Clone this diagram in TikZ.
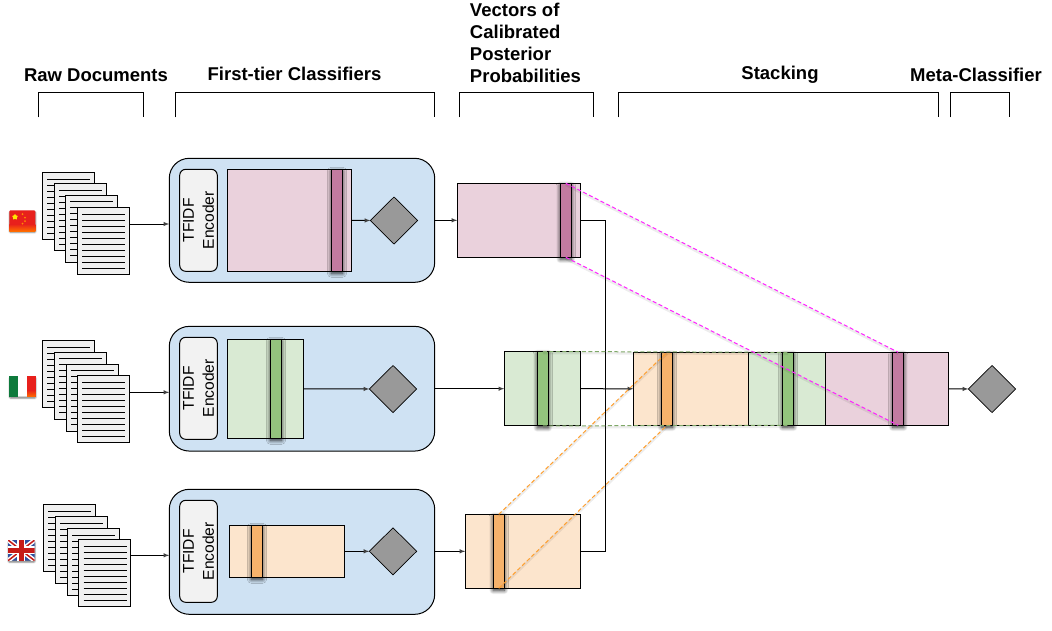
\documentclass[tikz,border=0pt]{standalone}
\usepackage{fontspec}
\setmainfont{Liberation Sans}
\usetikzlibrary{shapes.geometric,shadows.blur}

\definecolor{panelblue}{HTML}{CFE2F3}
\definecolor{pinkbg}{HTML}{EAD1DC}
\definecolor{pinkbar}{HTML}{C27BA0}
\definecolor{greenbg}{HTML}{D9EAD3}
\definecolor{greenbar}{HTML}{93C47D}
\definecolor{orangebg}{HTML}{FCE5CD}
\definecolor{orangebar}{HTML}{F6B26B}
\definecolor{linkgreen}{HTML}{7FA868}
\definecolor{linkorange}{HTML}{FFA030}
\definecolor{linkpink}{HTML}{FF22FF}
\definecolor{flagred}{HTML}{E8201C}
\definecolor{flaggreen}{HTML}{0E7A3C}
\definecolor{flagblue}{HTML}{2F4F9E}

\tikzset{
    every node/.style={inner sep=0pt, outer sep=0pt},
    line/.style={line width=1pt},
    header/.style={font=\fontsize{18.5}{22}\selectfont\bfseries, align=left},
    docsheet/.style={draw, line width=1pt, fill=black!6, minimum width=52.4pt, minimum height=67.4pt},
    panel/.style={draw, line width=1pt, fill=panelblue, rounded corners=20pt, minimum width=265.4pt},
    encoder/.style={draw, line width=1pt, fill=black!5, rounded corners=6pt, minimum width=37.6pt, minimum height=102pt},
    block/.style={draw, line width=1pt},
    bar/.style={draw, line width=1pt, minimum width=11.2pt,
        blur shadow={shadow xshift=0pt, shadow yshift=-2pt, shadow blur steps=10, shadow blur radius=4pt, shadow opacity=85}},
    decision/.style={draw, line width=0.7pt, fill=black!40, diamond, aspect=1, minimum width=47.4pt, minimum height=47pt},
    link/.style={dash pattern=on 4pt off 2.5pt, line width=1pt,
        preaction={draw=black, opacity=0.07, solid, line width=2.5pt, transform canvas={yshift=-1.5pt}}},
    flagshade/.style={blur shadow={shadow xshift=0.3pt, shadow yshift=-1.5pt, shadow blur steps=6, shadow blur radius=1.5pt, shadow opacity=50}},
}

% one sheet of a document stack: name, left edge, top edge
\newcommand{\docpage}[3]{
    \node[docsheet] (#1) at (#2+26.2,#3+33.7) {};
    \foreach \i in {0,...,9}
        \draw[line] (#2+5,#3+6.7+6*\i) -- +(43,0);
}

\begin{document}
\begin{tikzpicture}[x=1pt, y=-1pt, >=latex]
    \useasboundingbox (0,0) rectangle (1052,630);

    % column headers
    \node[header] (H1) at (96,75) {Raw Documents};
    \node[header] (H2) at (294.5,74) {First-tier Classifiers};
    \node[header] (H3) at (525.5,43) {Vectors of\\Calibrated\\Posterior\\Probabilities};
    \node[header] (H4) at (780,75) {Stacking};
    \node[header] (H5) at (976,75) {Meta-Classifier};

    \draw[line] (38.4,117.3) |- (143.6,92.3) -- (143.6,117.3);
    \draw[line] (175.4,117.3) |- (434.9,92.3) -- (434.9,117.3);
    \draw[line] (459.8,117.3) |- (593.8,92.3) -- (593.8,117.3);
    \draw[line] (618.3,117.3) |- (938.7,92.3) -- (938.7,117.3);
    \draw[line] (950.3,117.3) |- (1009.3,92.3) -- (1009.3,117.3);

    % flags
    \fill[flagred, flagshade, rounded corners=1pt] (9.3,210.3) rectangle (35.3,231);
    \shade[top color=flagred, bottom color=orange!85!red] (9.3,224) rectangle (35.3,231);
    \node[star, star points=5, fill=yellow!90!orange, minimum size=6pt] (star) at (15,217) {};
    \foreach \sx/\sy in {22.5/214, 25/217.5, 25/221, 22.5/223.5}
        \fill[orange!90!yellow] (\sx,\sy) circle (1pt);

    \fill[white, flagshade, rounded corners=1pt] (9.3,376) rectangle (35.6,396.7);
    \fill[flaggreen] (9.3,376) rectangle (18,396.7);
    \fill[flagred] (27,376) rectangle (35.6,396.7);
    \shade[top color=flagred, bottom color=orange!85!red] (27,390) rectangle (35.6,396.7);

    \fill[flagblue, flagshade, rounded corners=1pt] (8,540) rectangle (34.7,560.7);
    \begin{scope}
        \clip (8,540) rectangle (34.7,560.7);
        \draw[white, line width=4.5pt] (8,540) -- (34.7,560.7) (8,560.7) -- (34.7,540);
        \draw[flagred!85!black, line width=1.5pt] (8,540) -- (34.7,560.7) (8,560.7) -- (34.7,540);
        \draw[white, line width=8pt] (21.3,540) -- (21.3,560.7) (8,550.3) -- (34.7,550.3);
        \draw[flagred!85!black, line width=5pt] (21.3,540) -- (21.3,560.7) (8,550.3) -- (34.7,550.3);
    \end{scope}

    % document stacks
    \docpage{D11}{42}{172.3}
    \docpage{D12}{54.3}{183.3}
    \docpage{D13}{65.3}{195}
    \docpage{D14}{77.3}{207.3}

    \docpage{D21}{42}{340.3}
    \docpage{D22}{54.3}{352}
    \docpage{D23}{66.3}{364}
    \docpage{D24}{77.3}{375.5}

    \docpage{D31}{43.3}{504.3}
    \docpage{D32}{55.3}{516.3}
    \docpage{D33}{67.3}{528.3}
    \docpage{D34}{78.5}{539.5}

    % classifier panels
    \node[panel, minimum height=124pt] (C1) at (302,220.3) {};
    \node[panel, minimum height=124.7pt] (C2) at (302,388.7) {};
    \node[panel, minimum height=125pt] (C3) at (302,551.8) {};

    \foreach \n/\cy in {1/220.3, 2/388.3, 3/551.3}
        \node[encoder] (E\n) at (198.5,\cy) {};
    \foreach \n/\cy in {1/220.3, 2/388.3, 3/551.3}
        \node[rotate=90, align=center, font=\fontsize{15.6}{20}\selectfont] (T\n) at (198.5,\cy) {TFIDF\\Encoder};

    \node[block, fill=pinkbg, minimum width=124.4pt, minimum height=102pt] (M1) at (289.5,220.3) {};
    \node[bar, fill=pinkbar, minimum height=102pt] (M1b) at (337,220.3) {};
    \node[block, fill=greenbg, minimum width=76.4pt, minimum height=99pt] (M2) at (265.5,388.8) {};
    \node[bar, fill=greenbar, minimum height=99pt] (M2b) at (276,388.8) {};
    \node[block, fill=orangebg, minimum width=115.4pt, minimum height=52pt] (M3) at (287,551.3) {};
    \node[bar, fill=orangebar, minimum height=52pt] (M3b) at (257,551.3) {};

    \node[decision] (Q1) at (394,220.5) {};
    \node[decision] (Q2) at (393,389) {};
    \node[decision] (Q3) at (393,551.3) {};

    % calibrated vectors
    \node[block, fill=pinkbg, minimum width=123pt, minimum height=74pt] (V1) at (518.8,220.3) {};
    \node[bar, fill=pinkbar, minimum height=74pt] (V1b) at (565.8,220.3) {};
    \node[block, fill=greenbg, minimum width=76pt, minimum height=74.4pt] (V2) at (542.3,388.7) {};
    \node[bar, fill=greenbar, minimum height=74.4pt] (V2b) at (542.8,388.7) {};
    \node[block, fill=orangebg, minimum width=115pt, minimum height=74pt] (V3) at (522.8,551.3) {};
    \node[bar, fill=orangebar, minimum height=74pt] (V3b) at (498.8,551.3) {};

    % stacked vector
    \node[block, fill=orangebg, minimum width=115pt, minimum height=73pt] (S3) at (690.8,388.8) {};
    \node[block, fill=greenbg, minimum width=77pt, minimum height=73pt] (S2) at (786.8,388.8) {};
    \node[block, fill=pinkbg, minimum width=123pt, minimum height=73pt] (S1) at (886.8,388.8) {};
    \node[bar, fill=orangebar, minimum height=73pt] (S3b) at (667,388.8) {};
    \node[bar, fill=greenbar, minimum height=73pt] (S2b) at (788,388.8) {};
    \node[bar, fill=pinkbar, minimum height=73pt] (S1b) at (898.2,388.8) {};

    \node[decision] (Q4) at (992,389) {};

    % arrows
    \coordinate (A1) at (169.3,224);
    \coordinate (A2) at (169.3,392.3);
    \coordinate (A3) at (169.3,555.3);
    \coordinate (J) at (605.7,388.8);

    \draw[-latex, line] (D14.east |- A1) -- (A1);
    \draw[-latex, line] (D24.east |- A2) -- (A2);
    \draw[-latex, line] (D34.east |- A3) -- (A3);

    \draw[-latex, line] (M1) -- (Q1);
    \draw[-latex, line] (M2) -- (Q2);
    \draw[-latex, line] (M3) -- (Q3);

    \draw[-latex, line] (C1) -- (V1);
    \draw[-latex, line] (C2) -- (V2);
    \draw[-latex, line] (C3.east |- V3) -- (V3);

    \draw[line] (V1.east) -| (J);
    \draw[line] (V3.east) -| (J);
    \draw[-latex, line] (V2) -- (S3);
    \draw[-latex, line] (S1) -- (Q4);

    % where each column lands in the stack
    \draw[link, draw=linkgreen] (V2b.north) -- (S2b.north);
    \draw[link, draw=linkgreen] (V2b.south) -- (S2b.south);
    \draw[link, draw=linkorange] (V3b.north) -- (S3b.north);
    \draw[link, draw=linkorange] (V3b.south) -- (S3b.south);
    \draw[link, draw=linkpink] (V1b.north) -- (S1b.north);
    \draw[link, draw=linkpink] (V1b.south) -- (S1b.south);
\end{tikzpicture}
\end{document}
